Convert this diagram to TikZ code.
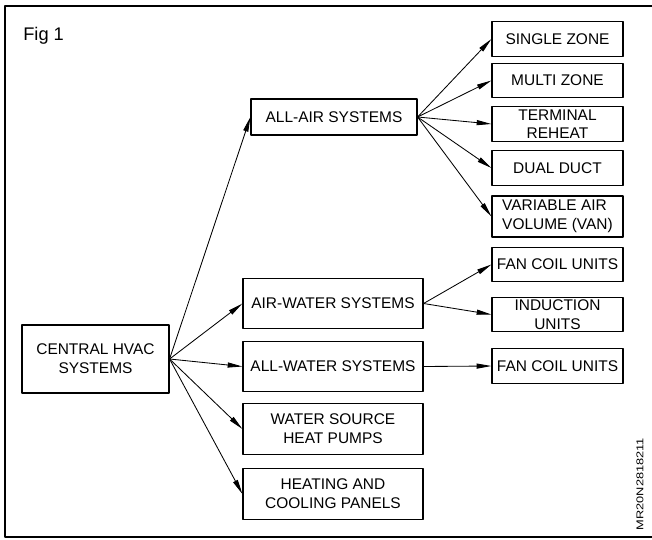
\documentclass[tikz,border=0pt]{standalone}
\usepackage{fontspec}
\setmainfont{Liberation Sans}
\usetikzlibrary{arrows.meta}
\begin{document}
\begin{tikzpicture}[
				x=0.025cm,y=-0.025cm,line join = round,>={Triangle[length=10.5pt,width=3.6pt]},inner sep = 0pt,
				font=\fontsize{11}{13.5}\selectfont,
				hvbox/.style={rectangle,draw = black,line width=0.8pt,align=center},
				hvmid/.style={hvbox,minimum width=4.5cm, minimum height=1.26cm},
				hvright/.style={hvbox,minimum width=3.275cm, minimum height=0.86cm},
				hvline/.style={->,line width=0.6pt}]
				\useasboundingbox (0,0) rectangle (652,540);
				\draw[line width=0.8pt] (652,6) -- (5,6) -- (5,537) -- (652,537);
				\node at (23,40) (figlabel) [anchor=base west,font=\fontsize{13}{15}\selectfont] {Fig 1};
				\node at (640,484) (figcode) [rotate=90,font=\fontsize{7}{8}\selectfont] {\scalebox{1.3}[1]{MR20N2818211}};
				% main and second level
				\node at (95.5,359) (central) [hvbox,minimum width=3.675cm,minimum height=1.7cm] {CENTRAL HVAC\\SYSTEMS};
				\node at (334,117) (allair) [hvbox,minimum width=4.15cm,minimum height=0.9cm] {ALL-AIR SYSTEMS};
				\node at (333,303.5) (airwater) [hvmid] {AIR-WATER SYSTEMS};
				\node at (333,366.5) (allwater) [hvmid] {ALL-WATER SYSTEMS};
				\node at (333,429) (wsource) [hvmid] {WATER SOURCE\\HEAT PUMPS};
				\node at (333,494) (panels) [hvmid] {HEATING AND\\COOLING PANELS};
				% third level
				\node at (557.5,39) (single) [hvright] {SINGLE ZONE};
				\node at (557.5,80.5) (multi) [hvright] {MULTI ZONE};
				\node at (557.5,124) (reheat) [hvright,font=\fontsize{11}{12.5}\selectfont] {TERMINAL\\REHEAT};
				\node at (557.5,168) (dual) [hvright] {DUAL DUCT};
				\node at (557.5,216.5) (vav) [hvright,minimum height=1.025cm,align=left] {VARIABLE AIR\\VOLUME (VAN)};
				\node at (557.5,264.5) (fancoilA) [hvright] {FAN COIL UNITS};
				\node at (557.5,314.5) (induction) [hvright] {INDUCTION\\UNITS};
				\node at (557.5,366) (fancoilB) [hvright] {FAN COIL UNITS};
				\draw[hvline] (central.east) to (allair.west);
				\draw[hvline] (central.east) to (airwater.west);
				\draw[hvline] (central.east) to (allwater.west);
				\draw[hvline] (central.east) to (wsource.west);
				\draw[hvline] (central.east) to (panels.west);
				\draw[hvline] (allair.east) to (single.west);
				\draw[hvline] (allair.east) to (multi.west);
				\draw[hvline] (allair.east) to (reheat.west);
				\draw[hvline] (allair.east) to (dual.west);
				\draw[hvline] (allair.east) to (vav.west);
				\draw[hvline] (airwater.east) to (fancoilA.west);
				\draw[hvline] (airwater.east) to (induction.west);
				\draw[hvline] (allwater.east) to (fancoilB.west);
			\end{tikzpicture}
\end{document}
